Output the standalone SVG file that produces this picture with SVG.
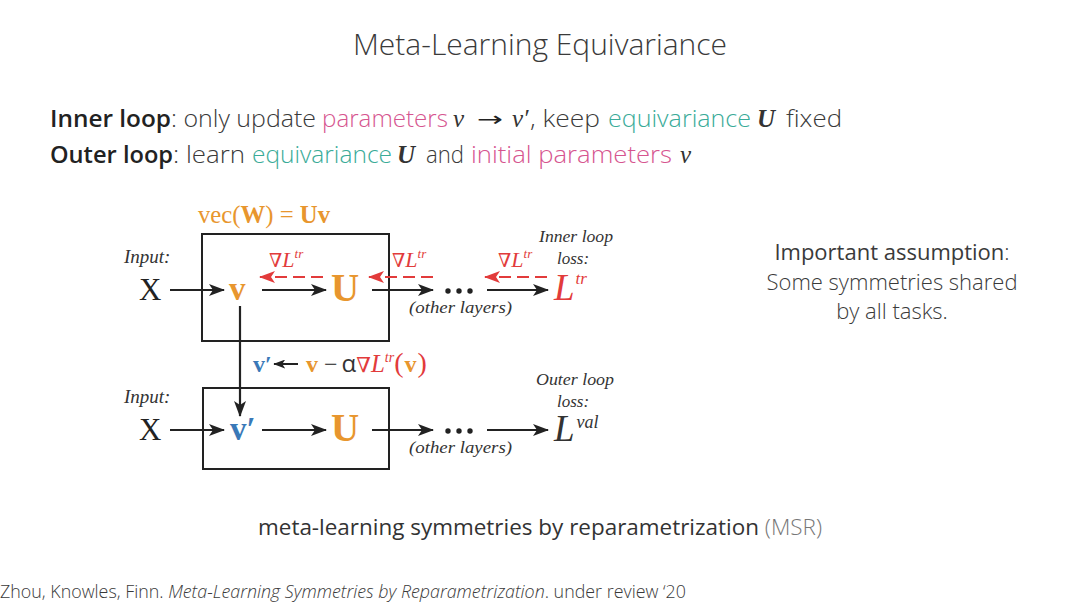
<svg xmlns="http://www.w3.org/2000/svg" width="1080" height="608" viewBox="0 0 1080 608">
<defs>
<marker id="ah" viewBox="0 0 16 12" refX="15" refY="6" markerWidth="16" markerHeight="12" markerUnits="userSpaceOnUse" orient="auto">
<path d="M0,0 L16,6 L0,12 L4,6 Z" fill="#222"/>
</marker>
<marker id="ahr" viewBox="0 0 16 12" refX="15" refY="6" markerWidth="16" markerHeight="12" markerUnits="userSpaceOnUse" orient="auto">
<path d="M0,0 L16,6 L0,12 L4,6 Z" fill="#e23b3b"/>
</marker>
<marker id="ahs" viewBox="0 0 16 12" refX="15" refY="6" markerWidth="12" markerHeight="9" markerUnits="userSpaceOnUse" orient="auto">
<path d="M0,0 L16,6 L0,12 L4,6 Z" fill="#222"/>
</marker>
</defs>
<style>
.sans{font-family:"Open Sans","Noto Sans",sans-serif;fill:#3a3a3a}
.light{font-weight:300}
.semi{font-weight:600;fill:#222}
.pink{fill:#d6558f}
.teal{fill:#3aab98}
.mi{font-family:"Liberation Serif",serif;font-style:italic;fill:#333}
.rm{font-family:"Liberation Serif",serif;fill:#222}
.bf{font-family:"Liberation Serif",serif;font-weight:bold}
.nab{font-family:"DejaVu Serif",serif}
.or{fill:#e8962e}
.red{fill:#e23b3b}
.blue{fill:#3a79b8}
.lbl{font-family:"Liberation Serif",serif;font-style:italic;fill:#333}
.box{fill:none;stroke:#222;stroke-width:2}
.ar{stroke:#222;stroke-width:2.2;fill:none;marker-end:url(#ah)}
.rd{stroke:#e23b3b;stroke-width:2.2;fill:none;stroke-dasharray:12 6;marker-end:url(#ahr)}
</style>
<rect width="1080" height="608" fill="#fff"/>

<text class="sans light" x="540" y="55" font-size="29" text-anchor="middle" textLength="374" lengthAdjust="spacingAndGlyphs">Meta-Learning Equivariance</text>

<g id="line1" font-size="24">
<text class="sans semi" x="50" y="127" textLength="121" lengthAdjust="spacingAndGlyphs">Inner loop</text>
<text class="sans light" x="171" y="127" textLength="145" lengthAdjust="spacingAndGlyphs">: only update</text>
<text class="sans light pink" x="322" y="127" textLength="126" lengthAdjust="spacingAndGlyphs">parameters</text>
<text class="mi" x="453" y="127" font-size="25">v</text>
<text font-family="DejaVu Sans" fill="#222" x="477" y="126" font-size="20" textLength="26" lengthAdjust="spacingAndGlyphs">→</text>
<text class="mi" x="512" y="127" font-size="25">v′</text>
<text class="sans light" x="530" y="127" textLength="70" lengthAdjust="spacingAndGlyphs">, keep</text>
<text class="sans light teal" x="608" y="127" textLength="143" lengthAdjust="spacingAndGlyphs">equivariance</text>
<text class="mi" x="757" y="127" font-size="25" font-weight="bold">U</text>
<text class="sans light" x="786" y="127" textLength="56" lengthAdjust="spacingAndGlyphs">fixed</text>
</g>
<g id="line2" font-size="24">
<text class="sans semi" x="50" y="163" textLength="123" lengthAdjust="spacingAndGlyphs">Outer loop</text>
<text class="sans light" x="173" y="163" textLength="72" lengthAdjust="spacingAndGlyphs">: learn</text>
<text class="sans light teal" x="252" y="163" textLength="140" lengthAdjust="spacingAndGlyphs">equivariance</text>
<text class="mi" x="397" y="163" font-size="25" font-weight="bold">U</text>
<text class="sans light" x="426" y="163" textLength="38" lengthAdjust="spacingAndGlyphs">and</text>
<text class="sans light pink" x="471" y="163" textLength="201" lengthAdjust="spacingAndGlyphs">initial parameters</text>
<text class="mi" x="680" y="163" font-size="25">v</text>
</g>

<g id="vecW">
<text x="198" y="223" font-size="26" class="or" textLength="132" lengthAdjust="spacingAndGlyphs"><tspan font-family="Liberation Serif">vec(</tspan><tspan class="bf">W</tspan><tspan font-family="Liberation Serif">) = </tspan><tspan class="bf">Uv</tspan></text>
</g>

<g id="box1"><rect class="box" x="202" y="234" width="187" height="107"/></g>
<g id="box2"><rect class="box" x="203" y="388" width="186" height="81"/></g>

<g id="input1">
<text class="lbl" x="124" y="263" font-size="19">Input:</text>
<text class="rm" x="139" y="300" font-size="31">X</text>
</g>
<g id="v1"><text class="bf or" x="229" y="300" font-size="33">v</text></g>
<g id="U1"><text class="bf or" x="331" y="301" font-size="39">U</text></g>
<g id="dots1"><circle cx="448" cy="291" r="2.7" fill="#222"/><circle cx="459" cy="291" r="2.7" fill="#222"/><circle cx="470" cy="291" r="2.7" fill="#222"/></g>
<g id="Ltr"><text class="mi red" x="554" y="300" font-size="37">L<tspan font-size="17" dy="-16" dx="1">tr</tspan></text></g>
<g id="other1"><text class="lbl" x="409" y="313" font-size="17" textLength="103" lengthAdjust="spacingAndGlyphs">(other layers)</text></g>
<g id="innerloss">
<text class="lbl" x="539" y="242" font-size="17" textLength="74" lengthAdjust="spacingAndGlyphs">Inner loop</text>
<text class="lbl" x="557" y="264" font-size="17">loss:</text>
</g>

<g id="input2">
<text class="lbl" x="124" y="403" font-size="19">Input:</text>
<text class="rm" x="139" y="440" font-size="31">X</text>
</g>
<g id="v2"><text class="bf blue" x="230" y="440" font-size="33">v′</text></g>
<g id="U2"><text class="bf or" x="331" y="441" font-size="39">U</text></g>
<g id="dots2"><circle cx="448" cy="431" r="2.7" fill="#222"/><circle cx="459" cy="431" r="2.7" fill="#222"/><circle cx="470" cy="431" r="2.7" fill="#222"/></g>
<g id="Lval"><text class="mi" x="554" y="441" font-size="37" fill="#222">L<tspan font-size="18" dy="-13" dx="2">val</tspan></text></g>
<g id="other2"><text class="lbl" x="409" y="453" font-size="17" textLength="103" lengthAdjust="spacingAndGlyphs">(other layers)</text></g>
<g id="outerloss">
<text class="lbl" x="536" y="385" font-size="17" textLength="78" lengthAdjust="spacingAndGlyphs">Outer loop</text>
<text class="lbl" x="557" y="407" font-size="17">loss:</text>
</g>

<g id="update">
<text x="253" y="372" font-size="24"><tspan class="bf blue">v′</tspan></text>
<text x="306" y="372" font-size="24"><tspan class="bf or">v</tspan><tspan class="rm" dx="6">−</tspan><tspan font-family="Open Sans" fill="#333" dx="4">α</tspan><tspan class="nab red" font-size="21">∇</tspan><tspan class="mi red" font-size="25">L</tspan><tspan class="mi red" font-size="14" dy="-10">tr</tspan><tspan class="rm red" dy="10" font-size="28">(</tspan><tspan class="bf or" dx="1">v</tspan><tspan class="rm red" font-size="28" dx="1">)</tspan></text>
</g>

<g id="gradlabels" font-size="21">
<text x="269" y="267"><tspan class="nab red" font-size="19">∇</tspan><tspan class="mi red" font-size="22">L</tspan><tspan class="mi red" font-size="13" dy="-9">tr</tspan></text>
<text x="392" y="267"><tspan class="nab red" font-size="19">∇</tspan><tspan class="mi red" font-size="22">L</tspan><tspan class="mi red" font-size="13" dy="-9">tr</tspan></text>
<text x="498" y="267"><tspan class="nab red" font-size="19">∇</tspan><tspan class="mi red" font-size="22">L</tspan><tspan class="mi red" font-size="13" dy="-9">tr</tspan></text>
</g>

<g id="connectors">
<line class="ar" x1="170" y1="290" x2="224" y2="290"/>
<line class="ar" x1="262" y1="290" x2="326" y2="290"/>
<line class="ar" x1="372" y1="290" x2="433" y2="290"/>
<line class="ar" x1="487" y1="290" x2="548" y2="290"/>
<line class="rd" x1="323" y1="277" x2="260" y2="277"/>
<line class="rd" x1="433" y1="277" x2="369" y2="277"/>
<line class="rd" x1="547" y1="277" x2="485" y2="277"/>
<line class="ar" x1="240" y1="306" x2="240" y2="416"/>
<line class="ar" x1="170" y1="430" x2="224" y2="430"/>
<line class="ar" x1="262" y1="430" x2="326" y2="430"/>
<line class="ar" x1="372" y1="430" x2="433" y2="430"/>
<line class="ar" x1="487" y1="430" x2="548" y2="430"/>
<line x1="298" y1="364" x2="274" y2="364" stroke="#222" stroke-width="2" marker-end="url(#ahs)"/>
</g>

<g id="assumption" text-anchor="middle">
<text class="sans" x="892" y="260" font-size="22" font-weight="500" fill="#222">Important assumption<tspan class="light">:</tspan></text>
<text class="sans light" x="892" y="290" font-size="22">Some symmetries shared</text>
<text class="sans light" x="892" y="319" font-size="22">by all tasks.</text>
</g>

<text x="540" y="535" font-size="22" text-anchor="middle" textLength="564" lengthAdjust="spacingAndGlyphs" class="sans"><tspan fill="#333">meta-learning symmetries by reparametrization </tspan><tspan class="light" fill="#777">(MSR)</tspan></text>

<text x="0" y="598" font-size="18" class="sans light" textLength="686" lengthAdjust="spacingAndGlyphs" fill="#333">Zhou, Knowles, Finn. <tspan font-style="italic">Meta-Learning Symmetries by Reparametrization</tspan>. under review ‘20</text>
</svg>
